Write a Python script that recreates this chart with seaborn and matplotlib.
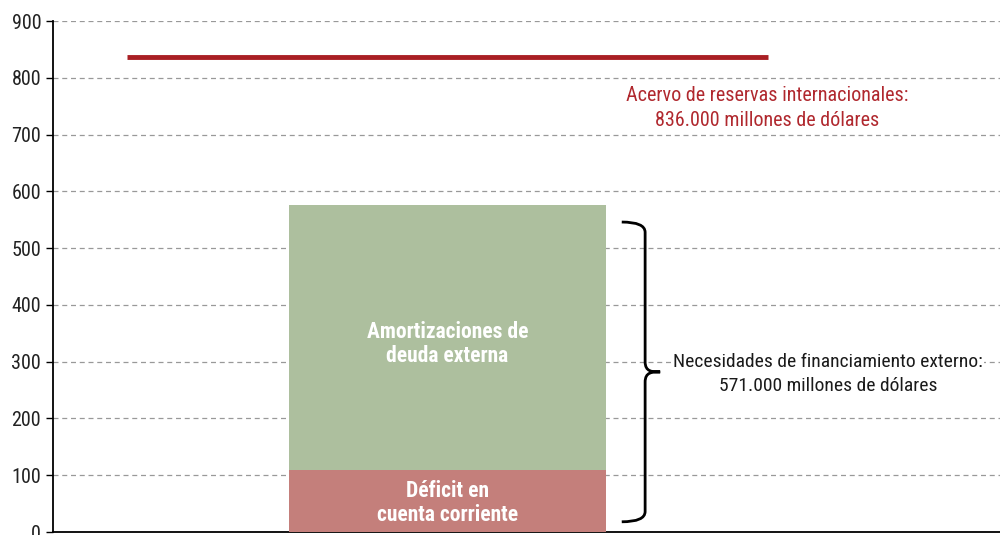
import numpy as np
import pandas as pd
import matplotlib
matplotlib.use("Agg")
import matplotlib.pyplot as plt
from matplotlib.path import Path
from matplotlib.patches import PathPatch
import seaborn as sns

# data (miles de millones de dólares)
categoria = ["Necesidades"]
deficit = [109]
amortizaciones = [467]
reservas = 836

sns.set_style("white")
plt.rcParams["font.family"] = ["Roboto Condensed", "DejaVu Sans"]

df = pd.DataFrame({"cat": categoria,
                   "deficit": deficit,
                   "total": np.array(deficit) + np.array(amortizaciones)})

fig = plt.figure(figsize=(10, 5.35), dpi=100)
ax = fig.add_axes([0.053, 0.0056, 0.947, 0.955])

sns.barplot(data=df, x="cat", y="total", color="#adbf9e", width=0.8,
            saturation=1, linewidth=0, ax=ax, zorder=3)
sns.barplot(data=df, x="cat", y="deficit", color="#c47f7b", width=0.8,
            saturation=1, linewidth=0, ax=ax, zorder=3)

# reservas
ax.hlines(reservas, -0.81, 0.81, color="#a91f24", lw=3.5, zorder=4)
ax.text(0.807, 747, "Acervo de reservas internacionales:\n836.000 millones de dólares",
        ha="center", va="center", color="#b0282e", fontsize=14.5, linespacing=1.4)

# etiquetas dentro de las barras
ax.text(0, 331, "Amortizaciones de\ndeuda externa", ha="center", va="center",
        color="white", fontsize=15.5, fontweight="bold", linespacing=1.1, zorder=5)
ax.text(0, 51, "Déficit en\ncuenta corriente", ha="center", va="center",
        color="white", fontsize=15.5, fontweight="bold", linespacing=1.1, zorder=5)

# llave
x0, xm, x1 = 0.44, 0.499, 0.537
top, bot = 546, 18
mid = (top + bot) / 2
r = 18
verts = [(x0, top), (xm, top), (xm, top - r),
         (xm, mid + r),
         (xm, mid), (x1 - 0.02, mid), (x1, mid),
         (x1 - 0.02, mid), (xm, mid), (xm, mid - r),
         (xm, bot + r),
         (xm, bot), (x0, bot), (x0, bot)]
codes = [Path.MOVETO, Path.CURVE3, Path.CURVE3,
         Path.LINETO,
         Path.CURVE4, Path.CURVE4, Path.CURVE4,
         Path.CURVE4, Path.CURVE4, Path.CURVE4,
         Path.LINETO,
         Path.CURVE3, Path.CURVE3, Path.LINETO]
ax.add_patch(PathPatch(Path(verts, codes), fill=False, lw=2, ec="black",
                       zorder=5, capstyle="butt"))
ax.text(0.961, 278, "Necesidades de financiamiento externo:\n571.000 millones de dólares",
        ha="center", va="center", color="#1a1a1a", fontsize=14, linespacing=1.45,
        zorder=5, bbox=dict(fc="white", ec="none", pad=1))

ax.set_ylim(0, 900)
ax.set_xlim(-0.996, 1.395)
ax.set_yticks(np.arange(0, 901, 100))
ax.set_xticks([])
ax.set_xlabel("")
ax.set_ylabel("")
ax.tick_params(axis="y", labelsize=14.5, length=5, width=1, direction="out",
               left=True, colors="black", labelcolor="#222222")
ax.yaxis.grid(True, ls=(0, (4, 3)), color="#999999", lw=0.9)
ax.set_axisbelow(True)
for s in ["top", "right"]:
    ax.spines[s].set_visible(False)
ax.spines["left"].set_color("black")
ax.spines["bottom"].set_color("black")
ax.spines["left"].set_linewidth(1.3)
ax.spines["bottom"].set_linewidth(1.3)

fig.savefig("out.png", dpi=100)
